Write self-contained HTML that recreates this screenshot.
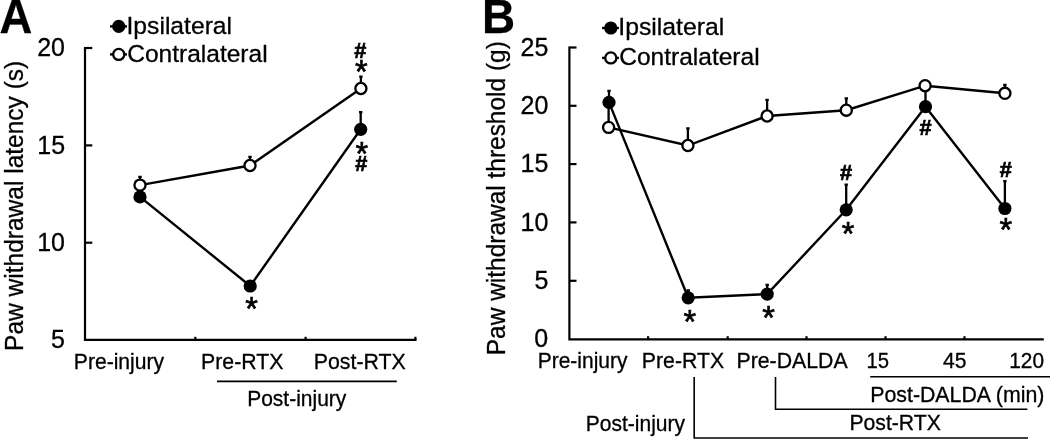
<!DOCTYPE html>
<html lang="en"><head><meta charset="utf-8"><title>Figure</title>
<style>
html,body{margin:0;padding:0;background:#fff;}
body{width:1050px;height:439px;overflow:hidden;}
svg{display:block;font-family:"Liberation Sans",Arial,sans-serif;fill:#000;}
text{stroke:#000;stroke-width:0.3;}
.ln{fill:none;stroke:#000;stroke-width:2.4;}
.ax{fill:none;stroke:#000;stroke-width:2.2;}
.eb{fill:none;stroke:#000;stroke-width:1.6;}
.er{fill:none;stroke:#000;stroke-width:2.3;}
.fc{fill:#000;stroke:none;}
.oc{fill:#fff;stroke:#000;stroke-width:2.3;}
.hs{stroke:#000;stroke-width:0.7;}
.as{stroke:#000;stroke-width:0.65;}
</style></head><body>
<svg width="1050" height="439" viewBox="0 0 1050 439">
<rect width="1050" height="439" fill="#fff"/>
<text x="-0.53" y="32.75" font-size="48.5" font-weight="bold" textLength="32.77" lengthAdjust="spacingAndGlyphs">A</text>
<path class="ax" d="M85 46.9V339.9H416.5"/>
<path class="ax" d="M85 48H92.3"/>
<path class="ax" d="M85 145.4H92.3"/>
<path class="ax" d="M85 242.7H92.3"/>
<path class="ax" d="M195.3 340V336.8"/>
<path class="ax" d="M305.6 340V336.8"/>
<path class="ax" d="M415.4 340V336.8"/>
<text x="37.19" y="56.1" font-size="25.0" textLength="27.81" lengthAdjust="spacingAndGlyphs">20</text>
<text x="37.25" y="153.5" font-size="25.0" textLength="27.81" lengthAdjust="spacingAndGlyphs">15</text>
<text x="37.19" y="250.8" font-size="25.0" textLength="27.81" lengthAdjust="spacingAndGlyphs">10</text>
<text x="51.12" y="348.1" font-size="25.0" textLength="13.90" lengthAdjust="spacingAndGlyphs">5</text>
<text transform="translate(22.8,350.92) rotate(-90)" font-size="25.1" textLength="290.16" lengthAdjust="spacingAndGlyphs">Paw withdrawal latency (s)</text>
<path class="ln" d="M110 26.4H127"/><circle class="fc" cx="118.75" cy="26.4" r="6.6"/>
<text x="126.52" y="33.75" font-size="24.3" textLength="105.54" lengthAdjust="spacingAndGlyphs">Ipsilateral</text>
<path class="ln" d="M110 54.4H127"/><circle class="oc" cx="118.75" cy="54.4" r="5.55"/>
<text x="127.17" y="61.9" font-size="24.3" textLength="140.49" lengthAdjust="spacingAndGlyphs">Contralateral</text>
<polyline class="ln" points="140,196.9 250.2,286 360.7,129.3"/>
<polyline class="ln" points="140,185.1 250,165.5 360.9,88.5"/>
<path class="er" d="M360.7 129.3V111.8M359.0 112.2H362.4"/>
<path class="er" d="M140 185.1V176.5M138.3 176.9H141.7"/>
<path class="er" d="M250 165.5V156.5M248.3 156.9H251.7"/>
<path class="er" d="M360.9 88.5V76.3M359.2 76.7H362.59999999999997"/>
<circle class="fc" cx="140" cy="196.9" r="6.6"/>
<circle class="fc" cx="250.2" cy="286" r="6.6"/>
<circle class="fc" cx="360.7" cy="129.3" r="6.6"/>
<circle class="oc" cx="140" cy="185.1" r="5.55"/>
<circle class="oc" cx="250" cy="165.5" r="5.55"/>
<circle class="oc" cx="360.9" cy="88.5" r="5.55"/>
<text x="360.3" y="57.75" font-size="21.7" text-anchor="middle" font-weight="bold" class="hs">#</text>
<text x="361.4" y="83.4" font-size="32.5" text-anchor="middle" class="as">*</text>
<text x="361.8" y="164.5" font-size="32.5" text-anchor="middle" class="as">*</text>
<text x="361.3" y="171.2" font-size="21.7" text-anchor="middle" font-weight="bold" class="hs">#</text>
<text x="251.7" y="319.5" font-size="32.5" text-anchor="middle" class="as">*</text>
<text x="73.86" y="369.3" font-size="21.3" textLength="90.17" lengthAdjust="spacingAndGlyphs">Pre-injury</text>
<text x="201.04" y="369.3" font-size="21.3" textLength="82.41" lengthAdjust="spacingAndGlyphs">Pre-RTX</text>
<text x="313.74" y="369.3" font-size="21.3" textLength="92.01" lengthAdjust="spacingAndGlyphs">Post-RTX</text>
<path class="eb" d="M217 381.4H396.8"/>
<text x="247.17" y="406.3" font-size="21.3" textLength="99.16" lengthAdjust="spacingAndGlyphs">Post-injury</text>
<text x="481.90" y="32.75" font-size="48" font-weight="bold" textLength="33.15" lengthAdjust="spacingAndGlyphs">B</text>
<path class="ax" d="M569.4 46.4V339.4H1043.8"/>
<path class="ax" d="M569.4 47.5H576.5"/>
<path class="ax" d="M569.4 105.8H576.5"/>
<path class="ax" d="M569.4 164.1H576.5"/>
<path class="ax" d="M569.4 222.4H576.5"/>
<path class="ax" d="M569.4 280.8H576.5"/>
<path class="ax" d="M648.1 339.4V336.2"/>
<path class="ax" d="M727.7 339.4V336.2"/>
<path class="ax" d="M806.5 339.4V336.2"/>
<path class="ax" d="M885.5 339.4V336.2"/>
<path class="ax" d="M964.5 339.4V336.2"/>
<text x="520.55" y="55.6" font-size="25.0" textLength="27.81" lengthAdjust="spacingAndGlyphs">25</text>
<text x="520.49" y="113.9" font-size="25.0" textLength="27.81" lengthAdjust="spacingAndGlyphs">20</text>
<text x="520.55" y="172.2" font-size="25.0" textLength="27.81" lengthAdjust="spacingAndGlyphs">15</text>
<text x="520.49" y="230.5" font-size="25.0" textLength="27.81" lengthAdjust="spacingAndGlyphs">10</text>
<text x="534.42" y="288.9" font-size="25.0" textLength="13.90" lengthAdjust="spacingAndGlyphs">5</text>
<text x="534.36" y="347.4" font-size="25.0" textLength="13.90" lengthAdjust="spacingAndGlyphs">0</text>
<text transform="translate(504.6,355.22) rotate(-90)" font-size="25.1" textLength="314.03" lengthAdjust="spacingAndGlyphs">Paw withdrawal threshold (g)</text>
<path class="ln" d="M602.1 28H618.9"/><circle class="fc" cx="610.8" cy="28" r="6.6"/>
<text x="618.31" y="35.2" font-size="24.3" textLength="105.96" lengthAdjust="spacingAndGlyphs">Ipsilateral</text>
<path class="ln" d="M602.1 57.9H618.9"/><circle class="oc" cx="610.8" cy="57.9" r="5.55"/>
<text x="619.17" y="65.2" font-size="24.3" textLength="140.49" lengthAdjust="spacingAndGlyphs">Contralateral</text>
<polyline class="ln" points="609,102.4 688.2,297.8 767.2,294.1 846.2,209.8 925.5,106.7 1004.9,208.5"/>
<polyline class="ln" points="608.6,127.4 687.9,145.5 767.1,116 846.3,110.2 925.1,85.7 1004.9,93.3"/>
<path class="er" d="M609 102.4V90.5M607.3 90.9H610.7"/>
<path class="er" d="M688.2 297.8V290M686.5 290.4H689.9000000000001"/>
<path class="er" d="M767.2 294.1V284.5M765.5 284.9H768.9000000000001"/>
<path class="er" d="M846.2 209.8V184.3M844.5 184.70000000000002H847.9000000000001"/>
<path class="er" d="M925.5 106.7V90M923.8 90.4H927.2"/>
<path class="er" d="M1004.9 208.5V180.8M1003.1999999999999 181.20000000000002H1006.6"/>
<path class="er" d="M608.6 127.4V106M606.9 106.4H610.3000000000001"/>
<path class="er" d="M687.9 145.5V128M686.1999999999999 128.4H689.6"/>
<path class="er" d="M767.1 116V99.5M765.4 99.9H768.8000000000001"/>
<path class="er" d="M846.3 110.2V97.9M844.5999999999999 98.30000000000001H848.0"/>
<path class="er" d="M1004.9 93.3V84.6M1003.1999999999999 85.0H1006.6"/>
<circle class="fc" cx="609" cy="102.4" r="6.6"/>
<circle class="fc" cx="688.2" cy="297.8" r="6.6"/>
<circle class="fc" cx="767.2" cy="294.1" r="6.6"/>
<circle class="fc" cx="846.2" cy="209.8" r="6.6"/>
<circle class="fc" cx="925.5" cy="106.7" r="6.6"/>
<circle class="fc" cx="1004.9" cy="208.5" r="6.6"/>
<circle class="oc" cx="608.6" cy="127.4" r="5.55"/>
<circle class="oc" cx="687.9" cy="145.5" r="5.55"/>
<circle class="oc" cx="767.1" cy="116" r="5.55"/>
<circle class="oc" cx="846.3" cy="110.2" r="5.55"/>
<circle class="oc" cx="925.1" cy="85.7" r="5.55"/>
<circle class="oc" cx="1004.9" cy="93.3" r="5.55"/>
<text x="846.1" y="180" font-size="21.7" text-anchor="middle" font-weight="bold" class="hs">#</text>
<text x="925.6" y="134.7" font-size="21.7" text-anchor="middle" font-weight="bold" class="hs">#</text>
<text x="1005.8" y="177.3" font-size="21.7" text-anchor="middle" font-weight="bold" class="hs">#</text>
<text x="689.9" y="333.1" font-size="32.5" text-anchor="middle" class="as">*</text>
<text x="768.5" y="329.0" font-size="32.5" text-anchor="middle" class="as">*</text>
<text x="848.1" y="245.0" font-size="32.5" text-anchor="middle" class="as">*</text>
<text x="1005.8" y="241.2" font-size="32.5" text-anchor="middle" class="as">*</text>
<text x="537.77" y="367.5" font-size="21.3" textLength="89.66" lengthAdjust="spacingAndGlyphs">Pre-injury</text>
<text x="641.85" y="367.5" font-size="21.3" textLength="82.30" lengthAdjust="spacingAndGlyphs">Pre-RTX</text>
<text x="736.44" y="367.5" font-size="21.3" textLength="111.28" lengthAdjust="spacingAndGlyphs">Pre-DALDA</text>
<text x="866.48" y="367.5" font-size="21.3" textLength="22.58" lengthAdjust="spacingAndGlyphs">15</text>
<text x="943.03" y="367.5" font-size="21.3" textLength="23.47" lengthAdjust="spacingAndGlyphs">45</text>
<text x="1009.24" y="367.5" font-size="21.3" textLength="34.77" lengthAdjust="spacingAndGlyphs">120</text>
<path class="eb" d="M870.2 376.8H1050"/>
<text x="870.24" y="401.8" font-size="21.3" textLength="174.11" lengthAdjust="spacingAndGlyphs">Post-DALDA (min)</text>
<path class="eb" d="M775.5 377V409.3H1027.4"/>
<text x="849.45" y="430.3" font-size="21.3" textLength="91.39" lengthAdjust="spacingAndGlyphs">Post-RTX</text>
<path class="eb" d="M694.2 377V438H1028"/>
<text x="585.77" y="431" font-size="21.3" textLength="99.26" lengthAdjust="spacingAndGlyphs">Post-injury</text>
</svg></body></html>
